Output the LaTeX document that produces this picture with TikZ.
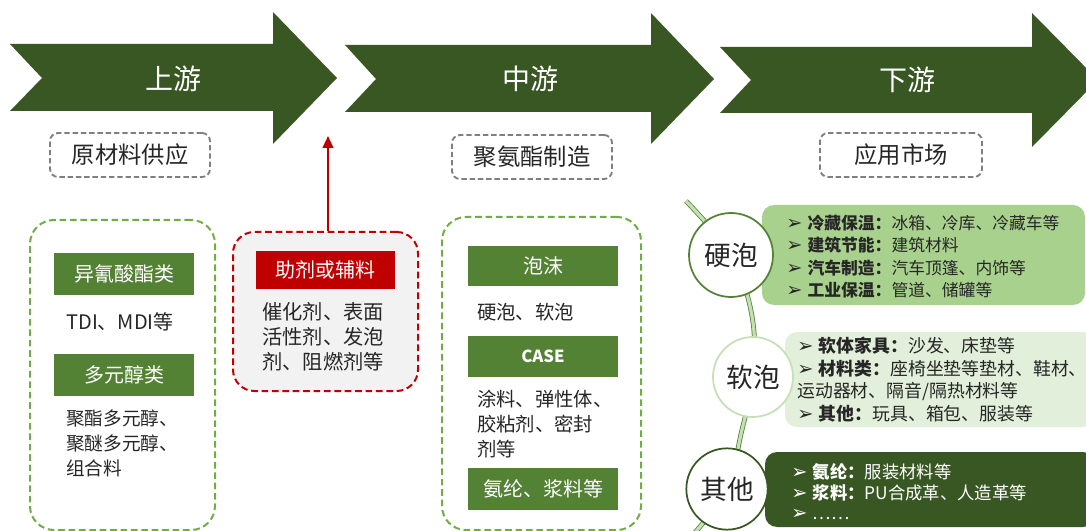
\documentclass[tikz,border=0pt]{standalone}
\usepackage{fontspec}
\setmainfont{Noto Sans CJK SC}
\newfontfamily\symf{DejaVu Sans}
\usetikzlibrary{arrows.meta}
\definecolor{arrowgreen}{HTML}{385723}
\definecolor{headgreen}{HTML}{548235}
\definecolor{dashgreen}{HTML}{70AD47}
\definecolor{darkred}{HTML}{C00000}
\definecolor{dashgray}{HTML}{7F7F7F}
\definecolor{panelgray}{HTML}{F2F2F2}
\definecolor{midgreen}{HTML}{A9D18E}
\definecolor{palegreen}{HTML}{E2EFDA}
\definecolor{lightgreen}{HTML}{C5E0B4}
\definecolor{txt}{HTML}{262626}
\newcommand{\arbul}{{\symf\fontsize{14.5}{14.5}\selectfont ➢}\hspace{0.3em}}
\begin{document}
\begin{tikzpicture}[x=0.75pt,y=-0.75pt,
  bigarrow/.style={fill=arrowgreen,draw=none},
  stagelabel/.style={text=white,font=\fontsize{21}{25}\selectfont},
  graybox/.style={draw=dashgray,dash pattern=on 4pt off 2.2pt,line width=1.4pt,rounded corners=6pt,
    minimum height=33pt,text=txt,font=\fontsize{17.5}{20}\selectfont,inner sep=0pt},
  greenpanel/.style={draw=dashgreen,dash pattern=on 5pt off 2.8pt,line width=1.5pt,rounded corners=18pt},
  redpanel/.style={draw=darkred,fill=panelgray,dash pattern=on 5pt off 2.8pt,line width=1.5pt,rounded corners=16pt},
  header/.style={fill=headgreen,text=white,inner sep=0pt,font=\fontsize{15}{18}\selectfont},
  body/.style={text=txt,inner sep=0pt,anchor=west,align=left},
  listbox/.style={rounded corners=9pt,draw=none},
  ring/.style={circle,fill=white,line width=1.3pt,inner sep=0pt,text=txt,font=\fontsize{20}{24}\selectfont},
  vine/.style={draw=headgreen,line width=0.6pt,double=lightgreen,double distance=2.4pt}]
\useasboundingbox (0,0) rectangle (1086,531);
\clip (0,0) rectangle (1086,531);

% stage arrows
\path[bigarrow] (10,44) -- (273,44) -- (273,12) -- (337,78) -- (273,144) -- (273,111) -- (10,111) -- (42,78) -- cycle;
\path[bigarrow] (345,45) -- (651,45) -- (651,13) -- (714,79) -- (651,144) -- (651,112) -- (345,112) -- (376,79) -- cycle;
\path[bigarrow] (720,47) -- (1032,47) -- (1032,13) -- (1098,80) -- (1032,147) -- (1032,113) -- (720,113) -- (751,80) -- cycle;
\node[stagelabel] (up) at (173,79) {上游};
\node[stagelabel] (mid) at (530,79) {中游};
\node[stagelabel] (down) at (907,80) {下游};

% gray dashed captions
\node[graybox,minimum width=120pt] (raw) at (130,155) {原材料供应};
\node[graybox,minimum width=120pt] (mfg) at (532,157) {聚氨酯制造};
\node[graybox,minimum width=121.5pt] (app) at (901,155) {应用市场};

% upstream panel
\node[greenpanel,minimum width=138.75pt,minimum height=232.5pt] (uppanel) at (122.5,375) {};
\node[header,minimum width=105pt,minimum height=31.5pt] (iso) at (124,274) {异氰酸酯类};
\node[body,font=\fontsize{15}{18}\selectfont] (isotxt) at (66,322) {TDI、MDI等};
\node[header,minimum width=105pt,minimum height=31.5pt] (poly) at (124,375) {多元醇类};
\node[body,font=\fontsize{14}{18.75}\selectfont] (polytxt) at (66,443) {聚酯多元醇、\\聚醚多元醇、\\组合料};

% auxiliary panel
\node[redpanel,minimum width=138.75pt,minimum height=119.25pt] (auxpanel) at (325.5,311.5) {};
\node[fill=darkred,text=white,inner sep=0pt,minimum width=104.25pt,minimum height=28.5pt,
  font=\fontsize{15}{18}\selectfont] (auxhead) at (325.5,270) {助剂或辅料};
\node[body,font=\fontsize{15.2}{18.75}\selectfont] (auxtxt) at (262,337) {催化剂、表面\\活性剂、发泡\\剂、阻燃剂等};
\coordinate (auxtip) at (328,136);
\draw[darkred,line width=1.6pt,-{Triangle[length=9pt,width=8pt]}] (auxpanel.north -| auxtip) -- (auxtip);

% midstream panel
\node[greenpanel,minimum width=149.25pt,minimum height=234.75pt] (midpanel) at (541.5,373.5) {};
\node[header,minimum width=112.5pt,minimum height=30pt] (foam) at (543,266) {泡沫};
\node[body,font=\fontsize{14.5}{18.5}\selectfont] (foamtxt) at (477,312) {硬泡、软泡};
\node[header,minimum width=112.5pt,minimum height=30.75pt,font=\fontsize{12.5}{15}\selectfont\bfseries] (case) at (543,356.5) {CASE};
\node[body,font=\fontsize{14.5}{18.5}\selectfont] (casetxt) at (477,424) {涂料、弹性体、\\胶粘剂、密封\\剂等};
\node[header,minimum width=112.5pt,minimum height=31.5pt] (fiber) at (543,489) {氨纶、浆料等};

% downstream lists
\node[listbox,fill=midgreen,minimum width=242.25pt,minimum height=75pt] (rigidbox) at (923.5,255) {};
\node[listbox,fill=palegreen,minimum width=232.5pt,minimum height=71.25pt] (softbox) at (940,379.5) {};
\node[listbox,fill=arrowgreen,minimum width=247.5pt,minimum height=56.25pt] (otherbox) at (930,489.5) {};
\node[body,font=\fontsize{12.6}{16.8}\selectfont] (rigidtxt) at (786,256.5) {\arbul\textbf{冷藏保温：}冰箱、冷库、冷藏车等\\\arbul\textbf{建筑节能：}建筑材料\\\arbul\textbf{汽车制造：}汽车顶篷、内饰等\\\arbul\textbf{工业保温：}管道、储罐等};
\node[body,font=\fontsize{13.4}{17}\selectfont] (softtxt) at (797,379.5) {\arbul\textbf{软体家具：}沙发、床垫等\\\arbul\textbf{材料类：}座椅坐垫等垫材、鞋材、\\运动器材、隔音/隔热材料等\\\arbul\textbf{其他：}玩具、箱包、服装等};
\node[body,text=white,font=\fontsize{13}{15.4}\selectfont] (othertxt) at (791,492) {\arbul\textbf{氨纶：}服装材料等\\\arbul\textbf{浆料：}PU合成革、人造革等\\\arbul……};

% vine and circles
\coordinate (v0) at (686,201);
\coordinate (v1) at (752,316);
\coordinate (v2) at (741,434);
\coordinate (v3) at (692,536);
\coordinate (p1) at (731,255);
\coordinate (p2) at (753,377);
\coordinate (p3) at (727,489);
\draw[vine] plot[smooth,tension=0.6] coordinates {(v0) (p1) (v1) (p2) (v2) (p3) (v3)};
\node[ring,draw=headgreen,minimum size=63pt] (rigid) at (p1) {硬泡};
\node[ring,draw=lightgreen,minimum size=60pt] (soft) at (p2) {软泡};
\node[ring,draw=arrowgreen,minimum size=61pt] (other) at (p3) {其他};
\end{tikzpicture}
\end{document}
